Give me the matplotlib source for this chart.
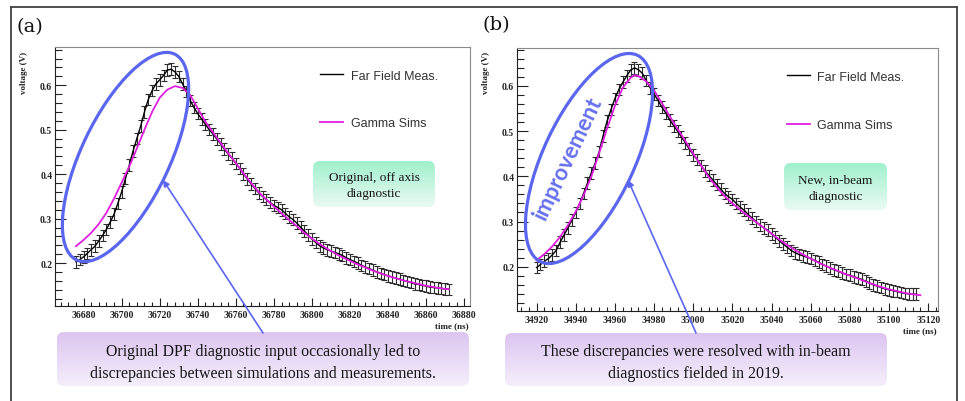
import numpy as np
import matplotlib
matplotlib.use("Agg")
import matplotlib.pyplot as plt
import matplotlib.colors as mcolors
from matplotlib.patches import Ellipse, FancyBboxPatch
from matplotlib.ticker import MultipleLocator, FormatStrFormatter

W, H = 965, 402

# ---- panel (a): original, off axis diagnostic ----
t0_a, dt_a = 36676, 2
meas_a = [0.203, 0.208, 0.214, 0.222, 0.230, 0.238, 0.250, 0.262, 0.276, 0.292,
          0.310, 0.334, 0.360, 0.390, 0.420, 0.452, 0.480, 0.508, 0.540, 0.568,
          0.588, 0.603, 0.612, 0.622, 0.634, 0.636, 0.630, 0.620, 0.603, 0.586,
          0.566, 0.550, 0.536, 0.524, 0.512, 0.500, 0.490, 0.479, 0.468, 0.456,
          0.445, 0.436, 0.424, 0.413, 0.401, 0.389, 0.378, 0.368, 0.358, 0.350,
          0.343, 0.336, 0.330, 0.325, 0.320, 0.312, 0.304, 0.298, 0.290, 0.281,
          0.272, 0.263, 0.254, 0.246, 0.239, 0.234, 0.230, 0.227, 0.224, 0.221,
          0.217, 0.212, 0.208, 0.204, 0.200, 0.195, 0.191, 0.188, 0.184, 0.180,
          0.177, 0.174, 0.171, 0.169, 0.166, 0.164, 0.161, 0.159, 0.156, 0.153,
          0.152, 0.150, 0.148, 0.146, 0.145, 0.144, 0.143, 0.142, 0.141]
sim_t_a = [36676, 36680, 36684, 36688, 36692, 36696, 36700, 36704, 36708, 36712,
           36716, 36720, 36724, 36728, 36732, 36736, 36740, 36744, 36748, 36752,
           36756, 36760, 36764, 36768, 36772, 36776, 36780, 36784, 36788, 36792,
           36796, 36800, 36804, 36808, 36812, 36816, 36820, 36824, 36828, 36832,
           36836, 36840, 36844, 36848, 36852, 36856, 36860, 36864, 36868, 36872]
sim_a = [0.238, 0.252, 0.268, 0.288, 0.313, 0.345, 0.381, 0.417, 0.458, 0.500,
         0.540, 0.572, 0.590, 0.598, 0.594, 0.578, 0.548, 0.518, 0.494, 0.470,
         0.447, 0.425, 0.402, 0.380, 0.360, 0.343, 0.327, 0.312, 0.297, 0.283,
         0.268, 0.255, 0.243, 0.232, 0.222, 0.213, 0.205, 0.197, 0.190, 0.183,
         0.177, 0.171, 0.166, 0.161, 0.157, 0.153, 0.149, 0.146, 0.143, 0.141]

# ---- panel (b): new, in-beam diagnostic ----
t0_b, dt_b = 34920, 2
meas_b = [0.198, 0.205, 0.212, 0.218, 0.226, 0.236, 0.254, 0.270, 0.286, 0.303,
          0.320, 0.340, 0.362, 0.385, 0.408, 0.430, 0.455, 0.490, 0.522, 0.548,
          0.572, 0.592, 0.608, 0.622, 0.635, 0.640, 0.636, 0.628, 0.612, 0.596,
          0.582, 0.568, 0.553, 0.540, 0.525, 0.512, 0.500, 0.487, 0.474, 0.460,
          0.448, 0.437, 0.424, 0.412, 0.402, 0.392, 0.382, 0.372, 0.362, 0.355,
          0.349, 0.340, 0.332, 0.325, 0.316, 0.308, 0.300, 0.293, 0.286, 0.281,
          0.273, 0.265, 0.257, 0.250, 0.243, 0.236, 0.231, 0.227, 0.224, 0.221,
          0.218, 0.214, 0.210, 0.205, 0.201, 0.197, 0.193, 0.190, 0.186, 0.183,
          0.181, 0.178, 0.175, 0.172, 0.168, 0.164, 0.160, 0.157, 0.154, 0.151,
          0.149, 0.147, 0.145, 0.143, 0.141, 0.140, 0.139, 0.139]
sim_t_b = [34920, 34924, 34928, 34932, 34936, 34940, 34944, 34948, 34952, 34956,
           34960, 34964, 34968, 34970, 34972, 34976, 34980, 34984, 34988, 34992,
           34996, 35000, 35004, 35008, 35012, 35016, 35020, 35024, 35028, 35032,
           35036, 35040, 35044, 35048, 35052, 35056, 35060, 35064, 35068, 35072,
           35076, 35080, 35084, 35088, 35092, 35096, 35100, 35104, 35108, 35112, 35116]
sim_b = [0.214, 0.228, 0.245, 0.266, 0.292, 0.322, 0.358, 0.400, 0.452, 0.506,
         0.556, 0.596, 0.618, 0.624, 0.622, 0.610, 0.590, 0.562, 0.533, 0.505,
         0.478, 0.450, 0.424, 0.398, 0.376, 0.356, 0.340, 0.326, 0.312, 0.299,
         0.286, 0.273, 0.260, 0.248, 0.237, 0.227, 0.218, 0.209, 0.201, 0.194,
         0.187, 0.180, 0.174, 0.167, 0.161, 0.155, 0.150, 0.146, 0.142, 0.139, 0.137]

meas_err = 0.013

BLUE = '#5a66ee'
MAG = '#e01ee0'

plt.rcParams['font.family'] = ['Liberation Serif', 'DejaVu Serif']

fig = plt.figure(figsize=(W / 100, H / 100), dpi=100)


def px_axes(l, t, r, b, **kw):
    return fig.add_axes([l / W, 1 - b / H, (r - l) / W, (b - t) / H], **kw)


def draw_panel(ax, t, meas, st, sim, xlim, ylim, leg_xy, leg_sp, vlab_x, tlab_xy):
    ax.errorbar(t, meas, yerr=meas_err, fmt='none', ecolor='#2e2e2e',
                elinewidth=0.8, capsize=2.1, capthick=0.8, zorder=2)
    ax.plot(t, meas, color='black', lw=1.0, label='Far Field Meas.', zorder=3)
    ax.plot(st, sim, color=MAG, lw=1.3, label='Gamma Sims', zorder=4)
    ax.set_xlim(*xlim)
    ax.set_ylim(*ylim)
    ax.xaxis.set_major_locator(MultipleLocator(20))
    ax.xaxis.set_minor_locator(MultipleLocator(4))
    ax.xaxis.set_major_formatter(FormatStrFormatter('%d'))
    ax.yaxis.set_major_locator(MultipleLocator(0.1))
    ax.yaxis.set_minor_locator(MultipleLocator(0.02))
    ax.yaxis.set_major_formatter(FormatStrFormatter('%.1f'))
    ax.tick_params(which='both', direction='in', top=False, right=False,
                   labelsize=7, colors='#222222')
    ax.tick_params(axis='y', which='major', length=8, width=0.8, pad=2)
    ax.tick_params(axis='y', which='minor', length=4.8, width=0.8)
    ax.tick_params(axis='x', which='major', length=5.5, width=0.8, pad=3)
    ax.tick_params(axis='x', which='minor', length=3, width=0.8)
    for lbl in ax.get_xticklabels() + ax.get_yticklabels():
        lbl.set_fontweight('bold')
    for s in ['top', 'right']:
        ax.spines[s].set_color('#8a8a8a')
    for s in ['left', 'bottom']:
        ax.spines[s].set_color('#202020')
    leg = ax.legend(loc='upper left', bbox_to_anchor=leg_xy, frameon=False,
                    prop={'family': 'Liberation Sans', 'size': 9},
                    handlelength=1.85, handletextpad=0.6, labelspacing=leg_sp,
                    borderpad=0, borderaxespad=0)
    for txt in leg.get_texts():
        txt.set_color('#333333')
    fig.text(vlab_x / W, 1 - 52 / H, 'voltage (V)', rotation=90, ha='center',
             va='top', fontsize=6.5, fontweight='bold', color='#222222')
    fig.text(tlab_xy[0] / W, 1 - tlab_xy[1] / H, 'time (ns)', ha='right',
             va='center', fontsize=6.5, fontweight='bold', color='#222222')


ax_a = px_axes(55, 48, 470, 307)
t_a = t0_a + dt_a * np.arange(len(meas_a))
draw_panel(ax_a, t_a, meas_a, sim_t_a, sim_a, (36665, 36883), (0.1035, 0.686),
           (0.6386, 0.913), 2.85, 24, (469, 326))

ax_b = px_axes(517, 49, 938, 312)
t_b = t0_b + dt_b * np.arange(len(meas_b))
draw_panel(ax_b, t_b, meas_b, sim_t_b, sim_b, (34910, 35125), (0.102, 0.684),
           (0.641, 0.914), 2.95, 486, (937, 331))

# ---- overlay for frame, callout boxes, ellipses and arrows ----
ov = fig.add_axes([0, 0, 1, 1], zorder=10)
ov.set_xlim(0, W)
ov.set_ylim(H, 0)
ov.set_autoscale_on(False)
ov.axis('off')
ov.patch.set_alpha(0)

frame_kw = dict(color='#404040', lw=1.3, solid_capstyle='butt')
ov.plot([10.5, 10.5], [7, H], **frame_kw)
ov.plot([10, 956.5], [7.5, 7.5], **frame_kw)
ov.plot([956.5, 956.5], [7, H], **frame_kw)


def grad_box(l, t, r, b, top_col, bot_col, text, fs, ls, dy):
    patch = FancyBboxPatch((l, t), r - l, b - t,
                           boxstyle='round,pad=0,rounding_size=7',
                           fc='none', ec='none', transform=ov.transData)
    ov.add_patch(patch)
    c0 = np.array(mcolors.to_rgb(top_col))
    c1 = np.array(mcolors.to_rgb(bot_col))
    g = np.linspace(0, 1, 64)[:, None, None]
    img = c0 * (1 - g) + c1 * g
    im = ov.imshow(img, extent=(l, r, b, t), origin='upper', aspect='auto',
                   interpolation='bilinear', zorder=1)
    im.set_clip_path(patch)
    ov.text((l + r) / 2, (t + b) / 2 + dy, text, ha='center', va='center',
            fontsize=fs, linespacing=ls, color='#151515', zorder=3)


grad_box(313, 162, 435, 208, '#a0f0cc', '#eafaf3',
         'Original, off axis\ndiagnostic', 9.5, 1.45, 1)
grad_box(784, 164, 887, 211, '#a0f0cc', '#eafaf3',
         'New, in-beam\ndiagnostic', 9.5, 1.45, 1)
grad_box(57, 333, 469, 387, '#dcc5f0', '#f4eefb',
         'Original DPF diagnostic input occasionally led to\n'
         'discrepancies between simulations and measurements.', 11.4, 1.5, 3)
grad_box(505, 334, 887, 387, '#dcc5f0', '#f4eefb',
         'These discrepancies were resolved with in-beam\n'
         'diagnostics fielded in 2019.', 11.4, 1.5, 2.5)

ov.add_patch(Ellipse((125.5, 158), 228, 88, angle=-64.5, fc='none',
                     ec=BLUE, lw=2.3, zorder=4))
ov.add_patch(Ellipse((589, 159.5), 228, 91, angle=-64.9, fc='none',
                     ec=BLUE, lw=2.3, zorder=4))

arrow_kw = dict(arrowstyle='-|>', color=BLUE, lw=1.2, shrinkA=0, shrinkB=0,
                mutation_scale=9)
ov.annotate('', xy=(163, 181), xytext=(263, 334), arrowprops=arrow_kw, zorder=4)
ov.annotate('', xy=(628, 181), xytext=(696, 334), arrowprops=arrow_kw, zorder=4)

ov.text(568, 158, 'improvement', rotation=64.6, rotation_mode='anchor',
        ha='center', va='center', fontsize=16, fontweight='bold',
        family='Lato', color='#6670ee', zorder=4)

ov.text(17, 27, '(a)', ha='left', va='center', fontsize=14,
        family='DejaVu Serif', color='#111111')
ov.text(482, 25, '(b)', ha='left', va='center', fontsize=14,
        family='DejaVu Serif', color='#111111')

fig.savefig('out.png', dpi=100)
